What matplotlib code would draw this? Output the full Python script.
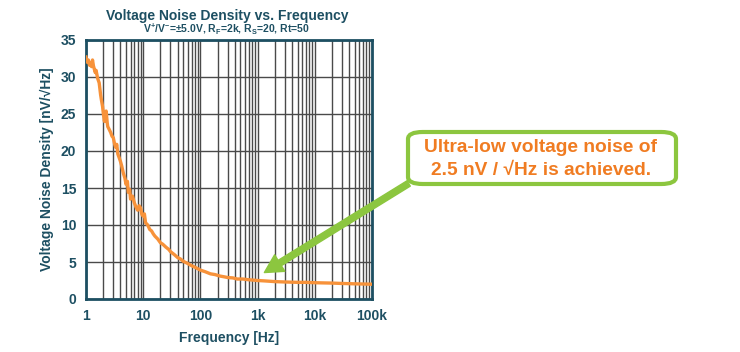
import matplotlib
matplotlib.use("Agg")
import matplotlib.pyplot as plt
from matplotlib.ticker import FixedLocator, LogLocator, NullFormatter
from matplotlib.patches import FancyBboxPatch

plt.rcParams['font.family'] = ['Liberation Sans', 'DejaVu Sans']
plt.rcParams['mathtext.fontset'] = 'custom'
plt.rcParams['mathtext.bf'] = 'Liberation Sans:bold'
plt.rcParams['mathtext.rm'] = 'Liberation Sans:bold'
plt.rcParams['mathtext.default'] = 'bf'

freq = [1.0, 1.05, 1.1, 1.15, 1.2, 1.25, 1.3, 1.35, 1.45, 1.5, 1.6, 1.7, 1.8, 1.85,
        1.95, 2.0, 2.1, 2.2, 2.25, 2.35, 2.4, 2.55, 2.7, 2.85, 3.0, 3.15, 3.3, 3.45,
        3.6, 3.8, 4.0, 4.2, 4.5, 4.8, 5.0, 5.3, 5.5, 5.8, 6.0, 6.5, 7.0, 7.5, 8.0,
        8.5, 9.0, 9.5, 10, 10.5, 11, 12, 13, 14, 15, 16, 18, 20, 22, 25, 28, 30,
        35, 40, 45, 50, 60, 70, 80, 100, 120, 150, 180, 220, 260, 300, 370, 440,
        550, 700, 850, 1000, 1300, 2000, 3000, 5000, 7000, 10000, 20000, 30000,
        50000, 100000]
noise = [32.7, 32.0, 32.3, 31.6, 31.9, 31.4, 32.3, 31.5, 30.6, 30.9, 29.8, 29.2, 27.6, 27.0,
         26.0, 25.2, 24.0, 25.0, 25.4, 23.8, 23.3, 22.9, 22.5, 22.0, 21.8, 21.0, 20.5, 20.9,
         19.6, 19.1, 18.6, 18.0, 17.0, 16.3, 15.5, 15.9, 14.4, 14.8, 13.5, 13.9, 13.0, 12.4, 12.0,
         12.6, 12.3, 11.4, 11.2, 11.5, 10.3, 10.0, 9.4, 9.2, 8.8, 8.5, 8.1, 7.6, 7.4, 7.0, 6.7, 6.4,
         6.0, 5.6, 5.4, 5.1, 4.8, 4.5, 4.3, 3.9, 3.7, 3.4, 3.3, 3.1, 3.0, 2.9, 2.85, 2.7,
         2.7, 2.6, 2.55, 2.5, 2.45, 2.35, 2.3, 2.25, 2.25, 2.2, 2.15, 2.1,
         2.05, 2.0]

xticks = [1, 10, 100, 1000, 10000, 100000]
xlabels = ['1', '10', '100', '1k', '10k', '100k']
yticks = [0, 5, 10, 15, 20, 25, 30, 35]

teal = '#1d4f62'
orange = '#f7923a'
green = '#8cc63f'

fig = plt.figure(figsize=(7.4, 3.52), dpi=100)
ax = fig.add_axes([86 / 740, 53 / 352, 286 / 740, 259 / 352])

ax.plot(freq, noise, color=orange, lw=2.4, zorder=3)
ax.set_xscale('log')
ax.set_xlim(1, 100000)
ax.set_ylim(0, 35)
ax.xaxis.set_major_locator(FixedLocator(xticks))
ax.set_xticklabels(xlabels)
ax.xaxis.set_minor_locator(LogLocator(base=10, subs=range(2, 10), numticks=20))
ax.xaxis.set_minor_formatter(NullFormatter())
ax.set_yticks(yticks)
ax.grid(True, which='both', axis='x', color='#4a4a4a', lw=1.0)
ax.grid(True, which='major', axis='y', color='#4a4a4a', lw=1.0)
ax.tick_params(which='both', length=0, colors=teal, labelsize=10, pad=7)
for lab in ax.get_xticklabels() + ax.get_yticklabels():
    lab.set_fontweight('bold')
for sp in ax.spines.values():
    sp.set_color(teal)
    sp.set_linewidth(2)

ax.set_xlabel('Frequency [Hz]', color=teal, fontsize=10, fontweight='bold', labelpad=6)
ax.set_ylabel('Voltage Noise Density [nV/\u221aHz]', color=teal, fontsize=10,
              fontweight='bold', labelpad=5)

fig.text(227 / 740, 1 - 16 / 352, 'Voltage Noise Density vs. Frequency', color=teal,
         fontsize=10, fontweight='bold', ha='center', va='center')
fig.text(226 / 740, 1 - 29 / 352,
         r'V$^{+}$/V$^{-}$=$\pm$5.0V, R$_F$=2k, R$_S$=20, Rt=50', color=teal,
         fontsize=7.5, fontweight='bold', ha='center', va='center')

# callout box
box = FancyBboxPatch((408 / 740, 1 - 184 / 352), 268 / 740, 52 / 352,
                     boxstyle='round,pad=0,rounding_size=0.02',
                     transform=fig.transFigure, facecolor='white',
                     edgecolor=green, lw=3, zorder=5)
fig.patches.append(box)
fig.text(541 / 740, 1 - 159 / 352, 'Ultra-low voltage noise of\n2.5 nV / \u221aHz is achieved.',
         color='#f07c22', fontsize=13.8, fontweight='bold', ha='center', va='center',
         linespacing=1.5, zorder=6)

fig.patches.append(matplotlib.patches.FancyArrowPatch(
    (411 / 740, 1 - 182 / 352), (262 / 740, 1 - 274 / 352),
    transform=fig.transFigure, arrowstyle='simple,head_length=13,head_width=14,tail_width=4.5',
    color=green, zorder=6, mutation_scale=1))

fig.savefig('out.png', dpi=100)
